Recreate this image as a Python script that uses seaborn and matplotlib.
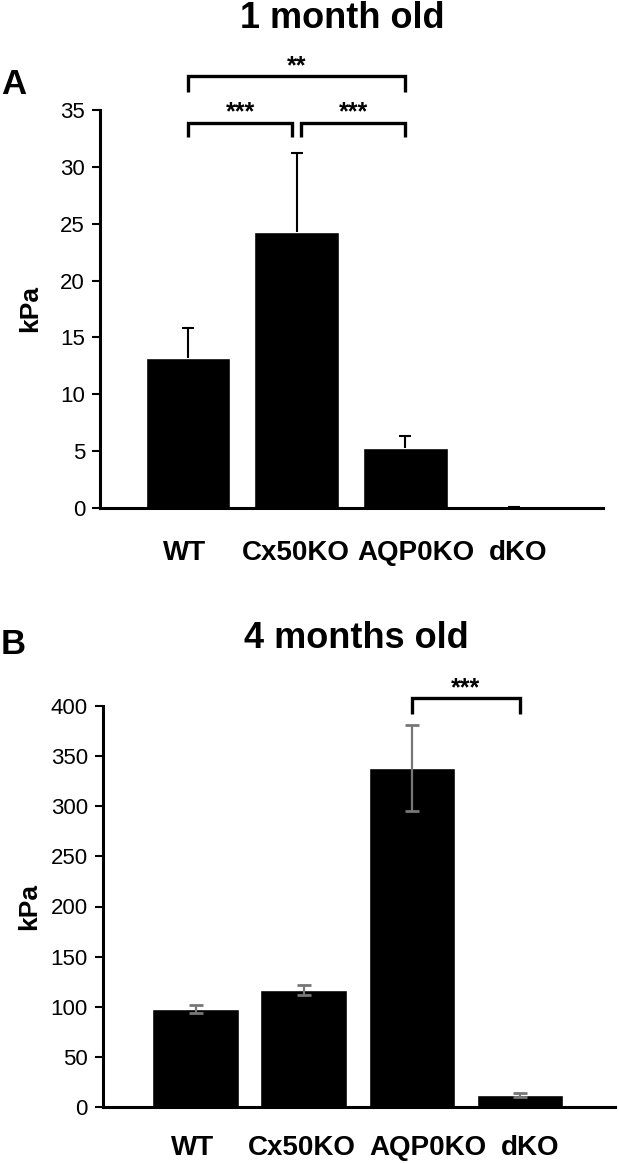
import matplotlib
matplotlib.use("Agg")
import matplotlib.pyplot as plt
import matplotlib.transforms as mtransforms
import numpy as np
import pandas as pd
import seaborn as sns

# ----------------------------
# Data
# ----------------------------
groups = ["WT", "Cx50KO", "AQP0KO", "dKO"]

# A: 1 month old, kPa (mean and upper error)
kpa_1m = [13.2, 24.3, 5.3, 0.1]
err_1m = [2.6, 6.9, 1.0, 0.0]

# B: 4 months old, kPa (mean and +/- error)
kpa_4m = [98, 117, 338, 12]
err_4m = [4, 5, 43, 2]

sns.set_style("white", {"axes.edgecolor": "black", "text.color": "black",
                        "xtick.color": "black", "ytick.color": "black",
                        "axes.labelcolor": "black"})
plt.rcParams["font.family"] = ["Liberation Sans", "DejaVu Sans"]

W, H = 619, 1163
fig = plt.figure(figsize=(W / 100, H / 100), dpi=100)


def px_axes(left, top, right, bottom):
    return fig.add_axes([left / W, 1 - bottom / H, (right - left) / W, (bottom - top) / H])


def fig_text(x, y, s, **kw):
    fig.text(x / W, 1 - y / H, s, **kw)


def style_panel(ax, yticks, xlim, shifts_px, xpad):
    ax.set_ylim(yticks[0], yticks[-1])
    ax.set_yticks(yticks)
    ax.set_xlim(*xlim)
    ax.set_xlabel("")
    sns.despine(ax=ax)
    for s in ["left", "bottom"]:
        ax.spines[s].set_linewidth(2.2)
        ax.spines[s].set_color("black")
    ax.tick_params(axis="y", left=True, direction="out", length=5.8, width=1.5,
                   pad=5, labelsize=16)
    ax.tick_params(axis="x", bottom=False, length=0, pad=xpad, labelsize=20)
    for lab, dx in zip(ax.get_xticklabels(), shifts_px):
        lab.set_fontweight("bold")
        lab.set_transform(lab.get_transform() +
                          mtransforms.ScaledTranslation(dx / 100, 0, fig.dpi_scale_trans))
    ax.set_ylabel("kPa", fontsize=19, fontweight="bold")


def bracket(ax, x0, x1, y, drop, text, ty):
    ax.plot([x0, x0, x1, x1], [y - drop, y, y, y - drop], color="black", lw=2.4,
            clip_on=False, solid_joinstyle="miter", solid_capstyle="butt")
    ax.text((x0 + x1) / 2, ty, text, ha="center", va="baseline", fontsize=18,
            fontweight="bold", clip_on=False)


# ----------------------------
# A: 1 month old
# ----------------------------
ax1 = px_axes(100, 110, 603, 508)
df1 = pd.DataFrame({"group": groups, "kpa": kpa_1m})
sns.barplot(data=df1, x="group", y="kpa", color="black", saturation=1,
            width=0.78, errorbar=None, ax=ax1)
eb = ax1.errorbar(np.arange(len(groups)), kpa_1m, yerr=[np.zeros(len(groups)), err_1m],
                  fmt="none", ecolor="black", elinewidth=1.5, capsize=4.3, capthick=1.5)
# upper caps only
eb[1][0].set_visible(False)
style_panel(ax1, list(range(0, 36, 5)), (-0.81, 3.82), [-3, -1, 11, 4], 23)
ax1.yaxis.set_label_coords(-0.115, 0.5)

bracket(ax1, 0.0, 2.0, 38.0, 1.4, "**", 38.25)
bracket(ax1, 0.0, 0.96, 33.9, 1.3, "***", 34.15)
bracket(ax1, 1.04, 2.0, 33.9, 1.3, "***", 34.15)

fig_text(342, 28, "1 month old", ha="center", va="baseline", fontsize=26, fontweight="bold")
fig_text(1, 94, "A", ha="left", va="baseline", fontsize=25, fontweight="bold")

# ----------------------------
# B: 4 months old
# ----------------------------
ax2 = px_axes(103, 706, 615, 1107)
df2 = pd.DataFrame({"group": groups, "kpa": kpa_4m})
sns.barplot(data=df2, x="group", y="kpa", color="black", saturation=1,
            width=0.8, errorbar=None, ax=ax2)
ax2.errorbar(np.arange(len(groups)), kpa_4m, yerr=err_4m,
             fmt="none", ecolor="#777777", elinewidth=1.6, capsize=5, capthick=2)
style_panel(ax2, list(range(0, 401, 50)), (-0.856, 3.88), [-3.5, -1.5, 16, 10.5], 20)
ax2.yaxis.set_label_coords(-0.12, 0.5)

bracket(ax2, 2.0, 3.0, 408, 16, "***", 411)

fig_text(356, 648, "4 months old", ha="center", va="baseline", fontsize=26, fontweight="bold")
fig_text(1, 654, "B", ha="left", va="baseline", fontsize=25, fontweight="bold")

fig.savefig("out.png", dpi=100)
plt.close(fig)
